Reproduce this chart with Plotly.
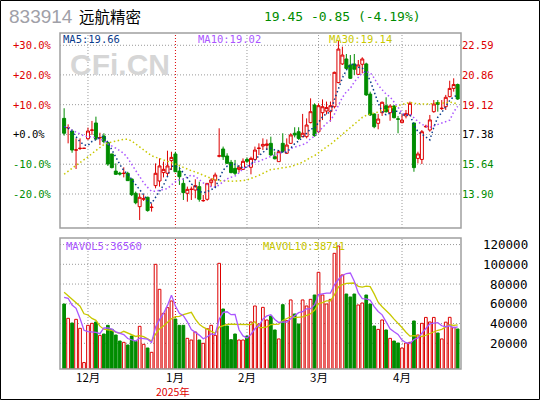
import plotly.graph_objects as go
import pandas as pd

W, H = 540, 400

# Daily bars, late Nov 2024 -> Apr 2025 (index 0..99)
opens = [18.32, 17.76, 17.58, 16.46, 16.56, 16.57, 17.13, 17.62, 18.05, 17.18,
         17.29, 16.90, 16.24, 15.24, 15.12, 15.10, 15.11, 14.78, 13.94, 13.16,
         13.60, 13.71, 13.11, 14.39, 14.66, 15.15, 15.11, 15.85, 16.24, 15.24,
         14.52, 13.94, 14.16, 14.13, 14.33, 13.50, 13.59, 14.56, 14.72, 16.11,
         16.53, 16.12, 15.75, 15.40, 15.34, 15.34, 15.92, 15.46, 15.92, 16.56,
         16.70, 16.74, 16.86, 16.08, 15.79, 16.86, 16.28, 16.86, 17.45, 17.54,
         17.25, 17.25, 18.07, 19.10, 17.54, 18.65, 18.75, 18.71, 19.00, 20.41,
         21.50, 21.79, 21.44, 21.50, 20.89, 21.48, 21.50, 19.74, 18.58, 18.03,
         18.65, 19.06, 18.65, 19.04, 18.29, 18.07, 18.46, 18.52, 18.05, 15.98,
         15.92, 17.82, 17.64, 18.71, 19.24, 18.89, 19.00, 19.59, 20.07, 20.30]
highs = [18.91, 17.97, 17.68, 17.15, 17.15, 16.57, 17.78, 18.17, 18.42, 17.48,
         17.45, 16.96, 16.24, 15.69, 15.20, 15.46, 15.20, 14.78, 14.04, 13.94,
         13.88, 13.74, 13.35, 15.69, 15.98, 15.79, 16.43, 16.37, 16.37, 15.50,
         14.82, 14.33, 14.33, 14.76, 14.62, 13.84, 14.52, 14.82, 15.15, 17.74,
         16.67, 16.28, 15.89, 15.89, 15.59, 15.98, 16.04, 16.08, 16.67, 16.86,
         17.15, 17.09, 17.25, 16.37, 16.47, 17.45, 17.15, 17.45, 17.80, 17.80,
         18.58, 18.32, 19.49, 19.20, 19.20, 19.43, 19.30, 19.30, 21.05, 22.90,
         22.51, 22.08, 22.02, 22.08, 21.73, 21.89, 21.57, 19.88, 18.61, 18.58,
         19.30, 19.55, 19.14, 19.10, 18.46, 18.58, 18.81, 19.30, 18.05, 16.37,
         17.64, 17.95, 18.52, 19.39, 19.39, 19.39, 19.69, 20.52, 20.66, 20.35]
lows = [17.31, 16.86, 16.31, 15.36, 16.47, 16.57, 17.06, 17.35, 17.06, 16.76,
        16.86, 15.54, 15.40, 15.01, 14.98, 14.87, 14.66, 13.78, 13.30, 12.38,
        13.49, 12.87, 12.87, 14.23, 14.33, 14.87, 14.95, 15.30, 15.20, 14.43,
        13.55, 13.45, 13.55, 13.65, 13.45, 13.45, 13.51, 14.33, 14.33, 16.04,
        15.89, 15.65, 15.11, 15.01, 15.15, 15.30, 15.70, 15.05, 15.89, 16.18,
        16.47, 16.47, 16.12, 15.92, 15.79, 16.32, 16.24, 16.82, 17.21, 17.06,
        17.21, 17.15, 18.03, 17.25, 17.45, 18.22, 18.55, 18.13, 18.90, 20.37,
        21.44, 21.20, 20.62, 20.85, 20.85, 20.95, 19.63, 18.46, 17.74, 17.68,
        18.46, 18.65, 18.18, 18.32, 17.45, 18.03, 18.32, 18.46, 15.20, 15.69,
        15.65, 17.78, 17.54, 18.65, 18.71, 18.81, 18.81, 19.55, 19.88, 19.40]
closes = [17.45, 17.78, 16.47, 16.48, 16.57, 16.57, 17.58, 17.64, 17.11, 17.20,
          16.96, 15.65, 15.44, 15.05, 15.07, 15.11, 14.68, 13.86, 13.39, 13.71,
          13.62, 12.93, 13.13, 15.11, 15.54, 15.34, 15.54, 16.04, 15.20, 14.91,
          13.98, 14.17, 14.18, 14.39, 13.59, 13.52, 14.52, 14.72, 15.01, 16.13,
          16.08, 15.69, 15.15, 15.11, 15.46, 15.81, 15.81, 15.98, 16.47, 16.58,
          16.80, 16.82, 16.18, 15.96, 16.37, 16.37, 16.76, 17.35, 17.35, 17.15,
          17.45, 17.93, 18.71, 17.31, 19.06, 19.00, 18.95, 19.06, 21.01, 22.37,
          22.02, 21.24, 20.66, 21.19, 21.44, 21.79, 19.69, 18.52, 17.83, 18.28,
          19.26, 18.71, 19.04, 18.36, 18.27, 18.22, 18.60, 19.20, 15.44, 16.24,
          17.54, 17.85, 18.23, 19.16, 19.14, 18.91, 19.55, 20.07, 20.30, 19.45]
volumes = [59800, 45290, 40560, 44270, 35160, 500, 38200, 40220, 41570, 28070,
           29420, 38200, 34150, 28410, 22330, 20980, 18280, 27390, 22000, 37190,
           18960, 15240, 10860, 99970, 74660, 50350, 56090, 62840, 44610, 38200,
           38200, 25030, 23340, 31440, 23340, 19970, 34820, 38200, 28070, 100990,
           54740, 37520, 23680, 29420, 23340, 23340, 27390, 41570, 57780, 39500,
           56400, 43600, 47600, 33500, 24400, 59100, 42900, 63900, 49700, 39500,
           63900, 57800, 64500, 68900, 91900, 68900, 59800, 64500, 111100, 118500,
           89200, 69900, 66900, 69900, 58800, 60800, 68900, 59800, 37500, 34100,
           43600, 33500, 25000, 22300, 20300, 15200, 20300, 21000, 42600, 28400,
           40210, 46200, 41600, 46200, 30400, 24400, 41400, 46300, 36200, 34500]

# Sessions before the first bar, only used to seed the moving averages
prior_closes = [12.1, 11.6, 11.4, 11.7, 11.9, 12.3, 11.8, 12.0, 11.9, 11.6,
                12.8, 13.5, 13.2, 14.0, 13.7, 14.5, 16.9, 18.5, 19.2, 18.7,
                17.9, 18.4, 17.6, 17.8, 17.45, 18.23, 17.47, 17.93, 18.07]
prior_volumes = [80000, 72000, 85000, 70000, 77000, 50300, 74600, 61200, 87100]

month_labels = ["12月", "1月", "2月", "3月", "4月"]
month_start = [6, 28, 46, 64, 85]
year_label = "2025年"
base_price = 17.38
price_ticks = [22.59, 20.86, 19.12, 17.38, 15.64, 13.90]
pct_labels = ["+30.0%", "+20.0%", "+10.0%", "+0.0%", "-10.0%", "-20.0%"]
vol_ticks = [120000, 100000, 80000, 60000, 40000, 20000]
stock_code = "833914"
stock_name = "远航精密"

RED = "#dd0000"
GREEN = "#008c00"
GRID = "#9a9a9a"
FRAME = "#a0a0a0"
C_MA5 = "#0a3c8c"
C_MA10 = "#aa55ff"
C_MA30 = "#c8c800"

# panel rectangles in pixels (left, top, right, bottom)
MAIN = (60, 33, 461, 228)
VOLP = (60, 238, 461, 369)
X_RANGE = [-1.04, 99.84]
P_RANGE = [11.913, 23.308]
V_RANGE = [-6030, 126630]


def sma(values, prior, n):
    s = pd.Series(list(prior) + list(values), dtype=float)
    return s.rolling(n).mean().iloc[len(prior):].to_numpy()


ma5 = sma(closes, prior_closes, 5)
ma10 = sma(closes, prior_closes, 10)
ma30 = sma(closes, prior_closes, 30)
mav5 = sma(volumes, prior_volumes, 5)
mav10 = sma(volumes, prior_volumes, 10)

idx = list(range(len(closes)))
up = [c >= o for o, c in zip(opens, closes)]


def px(x):
    return x / W


def py(y):
    return 1 - y / H


fig = go.Figure()

fig.add_trace(go.Candlestick(
    x=idx, open=opens, high=highs, low=lows, close=closes,
    increasing=dict(line=dict(color=RED, width=1), fillcolor="white"),
    decreasing=dict(line=dict(color=GREEN, width=1), fillcolor=GREEN),
    whiskerwidth=0, xaxis="x", yaxis="y", hoverinfo="skip"))

dot = "1.5px,2.5px"
for vals, col in ((ma30, C_MA30), (ma10, C_MA10), (ma5, C_MA5)):
    fig.add_trace(go.Scatter(x=idx, y=vals, mode="lines", xaxis="x", yaxis="y",
                             line=dict(color=col, width=1.5, dash=dot),
                             hoverinfo="skip"))

vbase = V_RANGE[0]
fig.add_trace(go.Bar(
    x=idx, y=[v - vbase for v in volumes], base=vbase, width=0.68,
    marker=dict(color=["white" if u else GREEN for u in up],
                line=dict(color=[RED if u else GREEN for u in up], width=1)),
    xaxis="x2", yaxis="y2", hoverinfo="skip"))

for vals, col in ((mav10, C_MA30), (mav5, C_MA10)):
    fig.add_trace(go.Scatter(x=idx, y=vals, mode="lines", xaxis="x2", yaxis="y2",
                             line=dict(color=col, width=1.3), hoverinfo="skip"))

shapes = []
# horizontal grid
for p in price_ticks:
    shapes.append(dict(type="line", xref="paper", yref="y", x0=px(MAIN[0]), x1=px(MAIN[2]),
                       y0=p, y1=p, line=dict(color=GRID, width=1, dash="1px,2px"), layer="below"))
for v in vol_ticks:
    shapes.append(dict(type="line", xref="paper", yref="y2", x0=px(VOLP[0]), x1=px(VOLP[2]),
                       y0=v, y1=v, line=dict(color=GRID, width=1, dash="1px,2px"), layer="below"))
# month separators, the year boundary in red
for lab, m in zip(month_labels, month_start):
    col = RED if lab == "1月" else GRID
    for xr, pan in (("x", MAIN), ("x2", VOLP)):
        shapes.append(dict(type="line", xref=xr, yref="paper", x0=m, x1=m,
                           y0=py(pan[3]), y1=py(pan[1]),
                           line=dict(color=col, width=1, dash="1px,2px"), layer="below"))
# panel frames
for pan in (MAIN, VOLP):
    shapes.append(dict(type="rect", xref="paper", yref="paper",
                       x0=px(pan[0]), x1=px(pan[2]), y0=py(pan[3]), y1=py(pan[1]),
                       line=dict(color=FRAME, width=1.5), layer="above"))
# outer border
shapes.append(dict(type="rect", xref="paper", yref="paper",
                   x0=px(0.5), x1=px(539.5), y0=py(399.5), y1=py(0.5),
                   line=dict(color="black", width=1)))

MONO = "DejaVu Sans Mono"
SANS = "Noto Sans CJK SC"
ann = []


def text(t, x, y, color, size, family=MONO, xanchor="left", yanchor="middle", **kw):
    ann.append(dict(text=t, x=px(x), y=py(y), xref="paper", yref="paper", showarrow=False,
                    xanchor=xanchor, yanchor=yanchor, borderpad=0,
                    font=dict(color=color, size=size, family=family), **kw))


def tick_color(p):
    if abs(p - base_price) < 1e-6:
        return "black"
    return RED if p > base_price else GREEN


# watermark
text("CFi.CN", 69, 64, "#d6d6d6", 30, family="Liberation Sans")
ann[-1]["font"]["weight"] = "bold"

for p, lab in zip(price_ticks, pct_labels):
    y = MAIN[1] + (P_RANGE[1] - p) / (P_RANGE[1] - P_RANGE[0]) * (MAIN[3] - MAIN[1])
    text(lab, 12, y, tick_color(p), 10.5)
    text(f"{p:.2f}", 461, y, tick_color(p), 10.5)
for v in vol_ticks:
    y = VOLP[1] + (V_RANGE[1] - v) / (V_RANGE[1] - V_RANGE[0]) * (VOLP[3] - VOLP[1])
    text(str(v), 529, y, "black", 12.5, xanchor="right")

# month labels under the volume panel
for lab, m in zip(month_labels, month_start):
    xc = MAIN[0] + (m - X_RANGE[0]) / (X_RANGE[1] - X_RANGE[0]) * (MAIN[2] - MAIN[0])
    text(lab, xc, 377, "black", 11.5, family=SANS, xanchor="center")
    if lab == "1月":
        text(year_label, xc - 2, 391, RED, 10.5, family=SANS, xanchor="center")

# moving average legends
text(f"MA5:{ma5[-1]:.2f}", 62, 39, C_MA5, 10.5)
text(f"MA10:{ma10[-1]:.2f}", 197, 39, C_MA10, 10.5)
text(f"MA30:{ma30[-1]:.2f}", 328, 39, C_MA30, 10.5)
text(f"MAVOL5:{mav5[-1]:.0f}", 65, 246, C_MA10, 10.5)
text(f"MAVOL10:{mav10[-1]:.0f}", 262, 246, C_MA30, 10.5)

# header
last, prev = closes[-1], closes[-2]
chg = last - prev
text(stock_code, 8, 17, "#a0a0a8", 19, family="Liberation Sans")
text(stock_name, 78, 16, "black", 15.5, family=SANS)
text(f"{last:.2f} {chg:+.2f} ({chg / prev * 100:+.2f}%)", 263, 17, GREEN, 13)

fig.update_layout(
    width=W, height=H, margin=dict(l=0, r=0, t=0, b=0),
    paper_bgcolor="white", plot_bgcolor="white", showlegend=False,
    boxgap=0.25, boxgroupgap=0.0,
    xaxis=dict(domain=[px(MAIN[0]), px(MAIN[2])], range=X_RANGE, visible=False,
               rangeslider=dict(visible=False), anchor="y"),
    yaxis=dict(domain=[py(MAIN[3]), py(MAIN[1])], range=P_RANGE, visible=False, anchor="x"),
    xaxis2=dict(domain=[px(VOLP[0]), px(VOLP[2])], range=X_RANGE, visible=False, anchor="y2"),
    yaxis2=dict(domain=[py(VOLP[3]), py(VOLP[1])], range=V_RANGE, visible=False, anchor="x2"),
    shapes=shapes, annotations=ann,
)

fig.write_html("out.html")
